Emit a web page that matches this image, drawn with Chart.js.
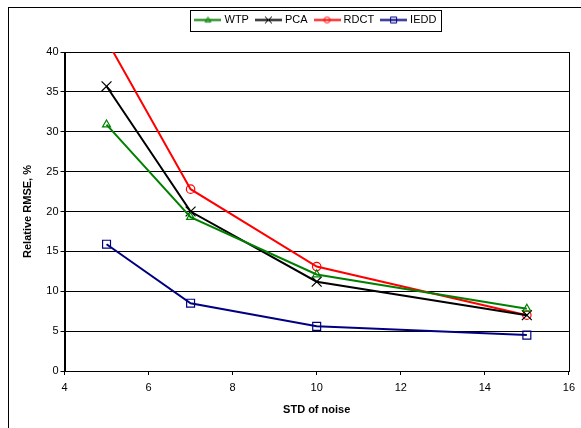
<!DOCTYPE html>
<html>
<head>
<meta charset="utf-8">
<title>Relative RMSE vs STD of noise</title>
<script src="https://cdn.jsdelivr.net/npm/chart.js@4.4.1/dist/chart.umd.min.js"></script>
<style>
  html, body { margin: 0; padding: 0; background: #fff; }
  #wrap { position: relative; width: 581px; height: 428px; }
</style>
</head>
<body>
<div id="wrap"><canvas id="chart"></canvas></div>
<script>
// noise levels (x) and relative RMSE in % per method
const noiseStd = [5, 7, 10, 15];
const wtp  = [30.9, 19.3, 12.1, 7.8];
const pca  = [35.7, 20.0, 11.2, 7.0];
const rdct = [41.5, 22.8, 13.1, 7.0];
const iedd = [15.9, 8.5, 5.6, 4.5];

const xTicks = { min: 4, max: 16, step: 2 };
const yTicks = { min: 0, max: 40, step: 5 };

const FONT = '"Liberation Sans", Arial, sans-serif';
Chart.defaults.font.family = FONT;
Chart.defaults.font.size = 11;
Chart.defaults.color = '#000';

const toPoints = (vals) => vals.map((v, i) => ({ x: noiseStd[i], y: v }));

// small marker drawing used for the legend icons
function drawMarker(ctx, style, x, y, r) {
  ctx.beginPath();
  if (style === 'triangle') {
    ctx.moveTo(x, y - r);
    ctx.lineTo(x + r * 0.95, y + r * 0.7);
    ctx.lineTo(x - r * 0.95, y + r * 0.7);
    ctx.closePath();
  } else if (style === 'crossRot') {
    ctx.moveTo(x - r, y - r); ctx.lineTo(x + r, y + r);
    ctx.moveTo(x + r, y - r); ctx.lineTo(x - r, y + r);
  } else if (style === 'circle') {
    ctx.arc(x, y, r, 0, Math.PI * 2);
  } else {
    ctx.rect(x - r, y - r, r * 2, r * 2);
  }
  ctx.stroke();
}

function legendIcon(ds) {
  const c = document.createElement('canvas');
  c.width = 27; c.height = 11;
  const ctx = c.getContext('2d');
  ctx.strokeStyle = ds.borderColor;
  ctx.lineWidth = 2;
  ctx.beginPath();
  ctx.moveTo(0, 5.5); ctx.lineTo(27, 5.5);
  ctx.stroke();
  ctx.lineWidth = 1;
  drawMarker(ctx, ds.pointStyle, 13.5, 5.5, ds.pointStyle === 'crossRot' ? 3.5 : 3);
  return c;
}

const frame = {
  id: 'frame',
  beforeDraw(chart) {
    const ctx = chart.ctx;
    ctx.save();
    ctx.fillStyle = '#fff';
    ctx.fillRect(0, 0, chart.width, chart.height);
    ctx.strokeStyle = '#000';
    ctx.lineWidth = 1;
    ctx.strokeRect(8.5, 7.5, chart.width + 20, chart.height + 20);
    ctx.restore();
  },
  beforeDatasetsDraw(chart) {
    const a = chart.chartArea;
    const ctx = chart.ctx;
    ctx.save();
    ctx.strokeStyle = '#000';
    ctx.lineWidth = 1;
    ctx.strokeRect(Math.round(a.left) + 0.5, Math.round(a.top) + 0.5,
      Math.round(a.right - a.left), Math.round(a.bottom - a.top));
    ctx.restore();
  },
  afterDraw(chart) {
    // box round the legend
    const boxes = chart.legend.legendHitBoxes;
    if (!boxes || !boxes.length) return;
    const left = Math.min(...boxes.map(b => b.left)) - 7;
    const right = Math.max(...boxes.map(b => b.left + b.width)) + 5;
    const cy = boxes[0].top + boxes[0].height / 2;
    const ctx = chart.ctx;
    ctx.save();
    ctx.strokeStyle = '#000';
    ctx.lineWidth = 1;
    ctx.strokeRect(Math.round(left) + 0.5, Math.round(cy - 10.5) + 0.5,
      Math.round(right - left), 21);
    ctx.restore();
  }
};

const datasets = [
  { label: 'WTP', data: toPoints(wtp), borderColor: '#008000', pointStyle: 'triangle', pointRadius: 4.6 },
  { label: 'PCA', data: toPoints(pca), borderColor: '#000000', pointStyle: 'crossRot', pointRadius: 7 },
  { label: 'RDCT', data: toPoints(rdct), borderColor: '#ff0000', pointStyle: 'circle', pointRadius: 4.2 },
  { label: 'IEDD', data: toPoints(iedd), borderColor: '#000080', pointStyle: 'rect', pointRadius: 5.6 }
].map(d => Object.assign(d, {
  borderWidth: 2,
  pointBorderWidth: 1.2,
  pointBackgroundColor: 'rgba(0,0,0,0)',
  pointBorderColor: d.borderColor,
  tension: 0,
  clip: 0
}));

new Chart(document.getElementById('chart'), {
  type: 'line',
  data: { datasets },
  plugins: [frame],
  options: {
    responsive: true,
    maintainAspectRatio: false,
    animation: false,
    layout: { padding: { left: 8, right: 10, top: 6, bottom: 0 } },
    plugins: {
      tooltip: { enabled: false },
      legend: {
        position: 'top',
        fullSize: false,
        weight: 3000,
        labels: {
          usePointStyle: true,
          pointStyleWidth: 22,
          padding: 8.5,
          color: '#000',
          font: { size: 11 },
          generateLabels(chart) {
            return chart.data.datasets.map((ds, i) => ({
              text: ds.label,
              pointStyle: legendIcon(ds),
              datasetIndex: i,
              hidden: false,
              fontColor: '#000',
              lineWidth: 0,
              strokeStyle: 'rgba(0,0,0,0)',
              fillStyle: 'rgba(0,0,0,0)'
            }));
          }
        }
      },
      // empty title only keeps the gap between legend and plot
      title: {
        display: true,
        text: ' ',
        font: { size: 1 },
        padding: { top: 0, bottom: 15.3 }
      }
    },
    scales: {
      x: {
        type: 'linear',
        min: xTicks.min,
        max: xTicks.max,
        ticks: { stepSize: xTicks.step, padding: 6, color: '#000', font: { size: 11 } },
        grid: { drawOnChartArea: false, drawTicks: true, tickLength: 4, color: '#000' },
        border: { color: '#000' },
        title: {
          display: true,
          text: 'STD of noise',
          color: '#000',
          font: { size: 11, weight: 'bold' },
          padding: { top: 0, bottom: 11.4 }
        },
        afterFit(scale) { scale.height = 57; }
      },
      y: {
        min: yTicks.min,
        max: yTicks.max,
        ticks: { stepSize: yTicks.step, padding: 2, color: '#000', font: { size: 11 } },
        grid: { color: '#000', lineWidth: 1, drawTicks: true, tickLength: 4 },
        border: { color: '#000' },
        title: {
          display: true,
          text: 'Relative RMSE, %',
          color: '#000',
          font: { size: 11, weight: 'bold' },
          padding: { top: 13.4, bottom: 0 }
        },
        afterFit(scale) { scale.width = 56.5; }
      }
    }
  }
});
</script>
</body>
</html>
